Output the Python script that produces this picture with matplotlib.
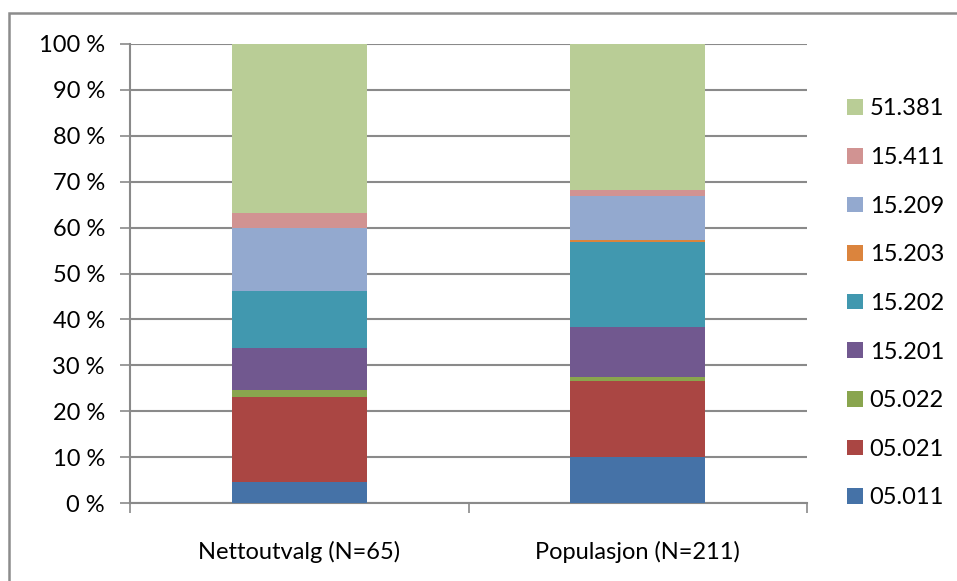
import matplotlib
matplotlib.use("Agg")
import matplotlib.pyplot as plt
from matplotlib.patches import Rectangle
from matplotlib.ticker import FixedLocator
import numpy as np

# Counts per code in each group
groups = ["Nettoutvalg (N=65)", "Populasjon (N=211)"]
group_n = [65, 211]
codes = ["05.011", "05.021", "05.022", "15.201", "15.202",
         "15.203", "15.209", "15.411", "51.381"]
counts_netto = [3, 12, 1, 6, 8, 0, 9, 2, 24]
counts_pop = [21, 35, 2, 23, 39, 1, 20, 3, 67]
colors = ["#4572A7", "#AA4643", "#89A54E", "#71588F", "#4198AF",
          "#DB843D", "#93A9CF", "#D19392", "#B9CD96"]
ytick_labels = ["0 %", "10 %", "20 %", "30 %", "40 %", "50 %",
                "60 %", "70 %", "80 %", "90 %", "100 %"]

plt.rcParams["font.family"] = ["Lato", "DejaVu Sans"]
FS = 17

W, H = 957, 581
fig = plt.figure(figsize=(W / 100, H / 100), dpi=100)
fig.patch.set_facecolor("white")

# Outer chart frame
fig.patches.append(Rectangle((9 / W, -0.1), 1.2, 1.1 - 13 / H,
                             transform=fig.transFigure, fill=False,
                             edgecolor="#8c8c8c", linewidth=1.8))

ax = fig.add_axes([130 / W, 1 - 503 / H, 677 / W, 459 / H])

pct = np.array([np.array(counts_netto) / group_n[0] * 100,
                np.array(counts_pop) / group_n[1] * 100])
x = np.arange(len(groups))
bottom = np.zeros(len(groups))
handles = []
for i, code in enumerate(codes):
    h = ax.bar(x, pct[:, i], width=0.4, bottom=bottom, color=colors[i],
               label=code, zorder=3, linewidth=0)
    handles.append(h)
    bottom += pct[:, i]

ax.set_xlim(-0.5, 1.5)
ax.set_ylim(0, 100)
ax.set_yticks(np.arange(0, 101, 10))
ax.set_yticklabels(ytick_labels, fontsize=FS)
ax.yaxis.grid(True, color="#8a8a8a", linewidth=1.5, zorder=0)
ax.set_axisbelow(True)

ax.set_xticks(x)
ax.set_xticklabels(groups, fontsize=FS)
ax.tick_params(axis="x", which="major", length=0, pad=27)
ax.xaxis.set_minor_locator(FixedLocator([-0.5, 0.5, 1.5]))
ax.tick_params(axis="x", which="minor", length=7, width=1.2, color="#8a8a8a",
               direction="out")
ax.tick_params(axis="y", length=7, width=1.2, color="#8a8a8a", pad=11)

for side in ["top", "right"]:
    ax.spines[side].set_visible(False)
for side in ["left", "bottom"]:
    ax.spines[side].set_color("#8a8a8a")
    ax.spines[side].set_linewidth(1.5)

leg = fig.legend(handles[::-1], codes[::-1], loc="upper left",
                 bbox_to_anchor=(838 / W, 1 - 89 / H), frameon=False,
                 fontsize=FS, handlelength=0.64, handleheight=0.64,
                 handletextpad=0.3, labelspacing=1.17, borderaxespad=0)

fig.savefig("out.png", dpi=100)
